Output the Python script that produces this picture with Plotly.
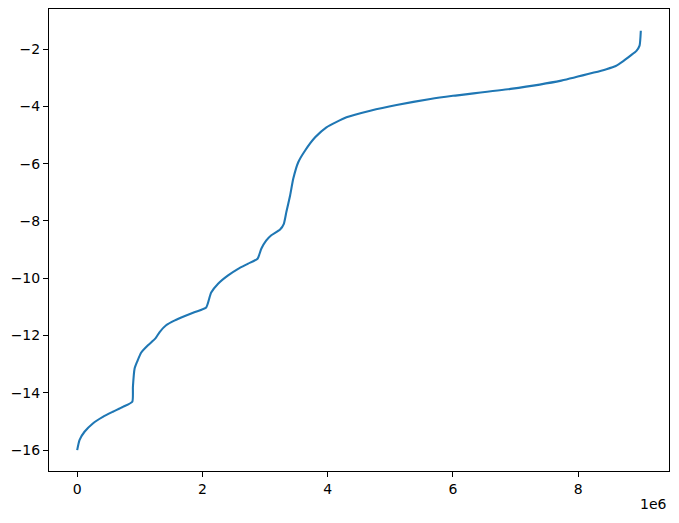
import plotly.graph_objects as go

# x positions in units of 1e6, y values
x_millions = [0, 0.037, 0.117, 0.25, 0.41, 0.57, 0.73, 0.88, 0.89, 0.917, 0.96, 1.02, 1.13, 1.25,
              1.32, 1.42, 1.56, 1.72, 1.88, 2.06, 2.12, 2.14, 2.25, 2.41, 2.57, 2.73, 2.88, 2.94,
              3.02, 3.10, 3.24, 3.30, 3.34, 3.40, 3.45, 3.53, 3.64, 3.80, 3.98, 4.30, 4.68, 5.10,
              5.64, 6.0, 6.92, 7.73, 8.25, 8.45, 8.6, 8.72, 8.84, 8.93, 8.98, 9.0]
y_values = [-16, -15.65, -15.36, -15.07, -14.84, -14.66, -14.49, -14.31, -13.79, -13.15, -12.9,
            -12.6, -12.34, -12.10, -11.87, -11.64, -11.47, -11.32, -11.18, -11.02, -10.62, -10.50,
            -10.19, -9.90, -9.67, -9.49, -9.32, -8.97, -8.68, -8.50, -8.30, -8.10, -7.69, -7.11,
            -6.53, -5.95, -5.54, -5.08, -4.73, -4.38, -4.15, -3.95, -3.74, -3.63, -3.39, -3.10,
            -2.82, -2.70, -2.59, -2.42, -2.22, -2.06, -1.88, -1.36]

x_tick_vals = [0, 2, 4, 6, 8]
x_tick_text = ["0", "2", "4", "6", "8"]
y_tick_vals = [-16, -14, -12, -10, -8, -6, -4, -2]
y_tick_text = ["\u221216", "\u221214", "\u221212", "\u221210", "\u22128", "\u22126", "\u22124", "\u22122"]

scale = 1e6
x_values = [v * scale for v in x_millions]

fig = go.Figure()
fig.add_trace(go.Scatter(x=x_values, y=y_values, mode="lines",
                         line=dict(color="#1f77b4", width=2.1, shape="spline", smoothing=0.5),
                         showlegend=False))

axis_common = dict(showgrid=False, zeroline=False, showline=True, linecolor="black",
                   linewidth=1, mirror=True, ticks="outside", ticklen=5, tickwidth=1,
                   tickcolor="black", tickfont=dict(family="DejaVu Sans", size=14, color="black"))

fig.update_xaxes(range=[-0.45 * scale, 9.45 * scale], tickvals=[v * scale for v in x_tick_vals],
                 ticktext=x_tick_text, **axis_common)
fig.update_yaxes(range=[-16.73, -0.6], tickvals=y_tick_vals, ticktext=y_tick_text, **axis_common)

fig.add_annotation(text="1e6", xref="paper", yref="paper", x=1.0, y=-0.05,
                   xanchor="right", yanchor="top", showarrow=False,
                   font=dict(family="DejaVu Sans", size=14, color="black"))

fig.update_layout(width=679, height=523, margin=dict(l=49, r=10, t=9, b=52),
                  plot_bgcolor="white", paper_bgcolor="white")

fig.write_html("out.html", config={"displayModeBar": False},
               post_script="document.body.style.margin='0';document.body.style.overflow='hidden';")
